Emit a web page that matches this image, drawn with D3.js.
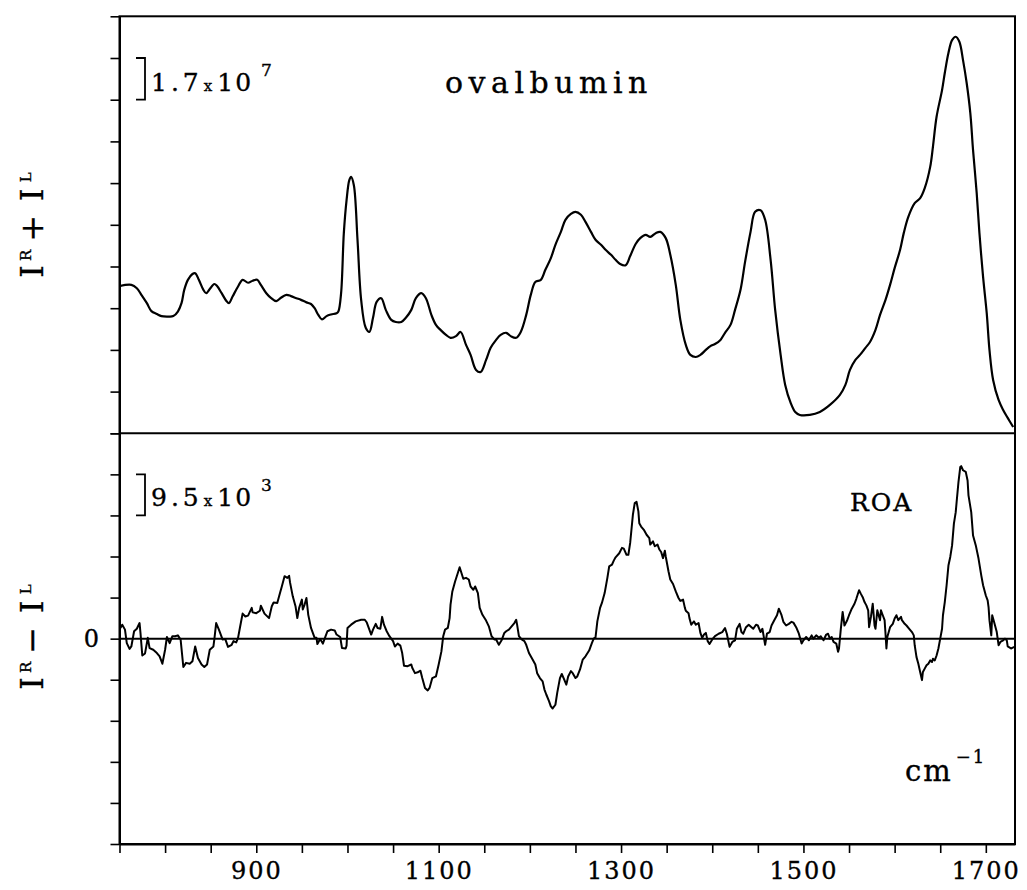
<!DOCTYPE html>
<html>
<head>
<meta charset="utf-8">
<script src="https://d3js.org/d3.v7.min.js"></script>
<style>
  body { margin: 0; background: #fff; }
  svg text { font-family: "DejaVu Serif", serif; fill: #000; stroke: #000; stroke-width: 0.35; }
</style>
</head>
<body>
<svg width="1027" height="890"></svg>
<script>
// wavenumber (cm-1), I^R + I^L in units of the 1.7 x 10^7 scale bar
const ramanSpectrum = [
  [750,3.53],[763,3.56],[769,3.48],[774,3.32],[780,3.12],[785,2.93],[791,2.86],[796,2.81],[803,2.80],[809,2.81],
  [814,2.92],[818,3.12],[821,3.44],[825,3.68],[830,3.82],[833,3.84],[837,3.68],[842,3.44],[845,3.36],[849,3.46],
  [854,3.58],[857,3.53],[862,3.36],[867,3.18],[870,3.12],[874,3.28],[880,3.52],[885,3.68],[891,3.61],[896,3.66],
  [901,3.68],[905,3.56],[911,3.36],[916,3.25],[922,3.17],[927,3.25],[933,3.32],[938,3.29],[944,3.24],[949,3.20],
  [955,3.14],[960,3.10],[964,3.00],[968,2.84],[972,2.73],[977,2.81],[982,2.85],[988,2.88],[990,2.92],[993,3.36],
  [996,4.80],[999,5.59],[1002,6.07],[1004,6.15],[1007,5.95],[1011,4.64],[1015,3.20],[1020,2.53],[1024,2.43],[1028,2.77],
  [1032,3.15],[1037,3.24],[1042,2.96],[1048,2.72],[1053,2.67],[1059,2.67],[1064,2.77],[1070,2.96],[1075,3.24],[1081,3.36],
  [1086,3.24],[1092,2.84],[1097,2.60],[1102,2.48],[1108,2.36],[1113,2.29],[1119,2.33],[1124,2.43],[1130,2.12],[1135,1.88],
  [1141,1.52],[1146,1.47],[1152,1.76],[1157,2.05],[1163,2.24],[1168,2.36],[1174,2.41],[1179,2.33],[1185,2.29],[1190,2.43],
  [1196,2.84],[1201,3.32],[1206,3.63],[1212,3.68],[1217,3.92],[1223,4.20],[1228,4.52],[1234,4.83],[1239,5.12],[1245,5.26],
  [1250,5.31],[1256,5.24],[1261,5.07],[1267,4.83],[1272,4.64],[1278,4.52],[1283,4.40],[1289,4.28],[1294,4.16],[1299,4.06],
  [1305,4.03],[1310,4.25],[1316,4.54],[1321,4.68],[1327,4.76],[1332,4.71],[1338,4.80],[1343,4.83],[1349,4.68],[1354,4.28],
  [1360,3.56],[1365,2.72],[1371,2.12],[1376,1.88],[1382,1.83],[1387,1.88],[1393,2.00],[1398,2.09],[1403,2.14],[1409,2.24],
  [1414,2.41],[1420,2.60],[1425,2.96],[1431,3.44],[1436,4.11],[1442,4.83],[1447,5.31],[1453,5.35],[1458,5.12],[1464,4.16],
  [1469,2.96],[1475,1.88],[1480,1.16],[1486,0.73],[1491,0.51],[1496,0.44],[1507,0.44],[1518,0.51],[1529,0.68],[1540,0.92],
  [1546,1.16],[1551,1.52],[1557,1.76],[1562,1.88],[1568,2.05],[1573,2.19],[1579,2.48],[1584,2.84],[1590,3.20],[1595,3.56],
  [1600,3.96],[1606,4.40],[1610,4.80],[1615,5.19],[1622,5.52],[1628,5.64],[1633,5.88],[1639,6.39],[1642,6.87],[1646,7.59],
  [1652,8.23],[1655,8.64],[1659,9.12],[1663,9.43],[1667,9.51],[1671,9.39],[1675,8.95],[1679,8.40],[1683,7.68],[1686,6.79],
  [1690,5.76],[1693,4.80],[1697,3.75],[1701,2.88],[1704,2.00],[1708,1.28],[1714,0.80],[1719,0.56],[1724,0.37],[1730,0.15]
];

// wavenumber (cm-1), I^R - I^L in units of the 9.5 x 10^3 scale bar
const roaSpectrum = [
  [751,0.26],[753,0.34],[756,0.22],[758,-0.11],[761,-0.25],[763,-0.19],[766,0.18],[769,0.24],[772,0.38],[773,0.14],
  [775,-0.41],[778,-0.36],[780,-0.11],[781,0.02],[783,-0.23],[787,-0.27],[791,-0.35],[794,-0.43],[797,-0.61],[800,-0.27],
  [802,0.04],[805,-0.11],[808,0.06],[811,0.06],[814,0.08],[817,-0.02],[820,-0.69],[823,-0.59],[827,-0.61],[830,-0.55],
  [833,-0.19],[836,-0.47],[840,-0.63],[843,-0.69],[846,-0.63],[849,-0.27],[853,-0.19],[854,-0.02],[856,0.38],[859,0.22],
  [863,-0.02],[866,-0.01],[869,-0.20],[873,-0.15],[875,-0.06],[878,-0.09],[880,0.02],[882,0.26],[885,0.61],[888,0.54],
  [891,0.56],[895,0.75],[896,0.64],[900,0.62],[904,0.68],[905,0.80],[909,0.61],[914,0.50],[917,0.79],[919,0.88],
  [923,0.87],[926,1.11],[928,1.27],[931,1.52],[934,1.48],[936,1.53],[937,1.37],[940,1.03],[943,0.79],[945,0.50],
  [947,0.75],[950,0.95],[951,0.71],[953,0.83],[955,0.99],[957,0.58],[960,0.26],[964,0.02],[966,0.02],[967,-0.13],
  [970,-0.01],[973,-0.12],[976,0.06],[978,0.18],[982,0.22],[986,0.20],[988,0.10],[992,0.04],[994,-0.23],[998,-0.24],
  [999,-0.17],[1000,0.26],[1004,0.34],[1009,0.42],[1015,0.46],[1019,0.46],[1021,0.40],[1024,0.22],[1026,0.10],[1028,0.22],
  [1031,0.36],[1033,0.26],[1036,0.24],[1038,0.53],[1040,0.34],[1043,0.18],[1046,0.06],[1050,-0.06],[1052,-0.19],[1055,-0.12],
  [1058,-0.17],[1060,-0.35],[1062,-0.66],[1066,-0.67],[1070,-0.63],[1071,-0.71],[1074,-0.84],[1077,-0.82],[1080,-0.78],[1082,-0.96],
  [1085,-1.20],[1088,-1.26],[1090,-1.20],[1093,-0.96],[1097,-0.92],[1100,-0.63],[1103,-0.31],[1105,0.06],[1107,0.22],[1110,0.26],
  [1112,0.50],[1113,0.83],[1115,1.15],[1118,1.39],[1121,1.60],[1123,1.74],[1125,1.60],[1127,1.46],[1130,1.48],[1133,1.44],
  [1135,1.27],[1138,1.19],[1140,1.27],[1143,1.11],[1145,0.75],[1148,0.58],[1152,0.44],[1155,0.30],[1158,0.06],[1161,-0.02],
  [1163,-0.02],[1166,-0.15],[1169,-0.04],[1172,0.14],[1174,0.18],[1177,0.22],[1180,0.30],[1183,0.38],[1185,0.46],[1186,0.34],
  [1188,0.06],[1191,-0.02],[1194,-0.06],[1196,-0.15],[1199,-0.35],[1203,-0.51],[1206,-0.63],[1208,-0.84],[1211,-0.96],[1214,-1.04],
  [1216,-1.24],[1218,-1.36],[1221,-1.52],[1223,-1.65],[1225,-1.70],[1228,-1.61],[1230,-1.32],[1233,-0.96],[1235,-0.86],[1237,-0.96],
  [1240,-1.12],[1242,-0.92],[1245,-0.79],[1247,-0.84],[1250,-0.96],[1252,-0.92],[1255,-0.75],[1258,-0.51],[1261,-0.43],[1265,-0.29],
  [1268,-0.11],[1270,0.00],[1272,0.03],[1274,0.42],[1277,0.75],[1279,0.87],[1282,1.11],[1285,1.48],[1287,1.76],[1290,1.80],
  [1292,1.90],[1294,1.98],[1298,2.08],[1301,2.21],[1303,2.19],[1306,2.04],[1308,2.04],[1310,2.33],[1313,3.02],[1315,3.30],
  [1317,3.33],[1319,3.10],[1320,2.81],[1322,2.73],[1325,2.65],[1328,2.53],[1331,2.45],[1332,2.29],[1335,2.37],[1337,2.25],
  [1340,2.29],[1342,2.17],[1344,2.11],[1346,1.96],[1348,2.14],[1349,2.00],[1352,1.64],[1354,1.44],[1357,1.33],[1360,1.15],
  [1363,0.99],[1365,0.92],[1368,0.95],[1370,0.75],[1371,0.68],[1374,0.62],[1375,0.50],[1377,0.34],[1380,0.42],[1382,0.34],
  [1385,0.38],[1387,0.14],[1389,0.02],[1391,0.10],[1393,0.14],[1395,-0.06],[1397,-0.13],[1400,-0.02],[1403,0.06],[1407,0.12],
  [1411,0.16],[1414,0.26],[1416,0.12],[1419,-0.20],[1422,-0.08],[1425,-0.04],[1427,0.24],[1430,0.36],[1432,0.16],[1434,0.12],
  [1437,0.28],[1440,0.34],[1443,0.28],[1445,0.24],[1448,0.34],[1450,0.32],[1453,0.16],[1455,0.24],[1458,-0.15],[1460,0.12],
  [1463,0.16],[1465,0.32],[1468,0.45],[1471,0.57],[1473,0.73],[1476,0.57],[1478,0.41],[1481,0.32],[1484,0.36],[1487,0.41],
  [1489,0.39],[1492,0.28],[1495,0.12],[1498,-0.12],[1500,-0.04],[1503,0.04],[1506,-0.04],[1509,0.08],[1511,0.00],[1514,0.08],
  [1517,0.02],[1519,0.06],[1522,-0.04],[1525,0.10],[1527,0.12],[1529,0.00],[1531,0.04],[1533,-0.08],[1536,-0.12],[1538,-0.32],
  [1539,-0.24],[1541,0.24],[1543,0.65],[1545,0.32],[1548,0.45],[1550,0.57],[1553,0.73],[1556,0.85],[1558,0.97],[1561,1.18],
  [1563,1.09],[1565,1.01],[1567,0.89],[1569,0.81],[1571,0.69],[1572,0.28],[1574,0.53],[1576,0.85],[1578,0.32],[1579,0.24],
  [1581,0.69],[1584,0.45],[1585,0.69],[1587,0.57],[1589,0.45],[1590,0.12],[1591,-0.24],[1592,0.04],[1595,0.28],[1598,0.36],
  [1600,0.49],[1602,0.57],[1604,0.45],[1607,0.53],[1608,0.45],[1611,0.36],[1613,0.32],[1616,0.24],[1619,0.16],[1621,0.08],
  [1622,-0.16],[1624,-0.45],[1626,-0.61],[1628,-0.81],[1630,-1.01],[1631,-0.81],[1633,-0.73],[1635,-0.65],[1637,-0.61],[1639,-0.53],
  [1641,-0.57],[1642,-0.49],[1644,-0.53],[1646,-0.41],[1648,-0.24],[1650,0.00],[1652,0.24],[1653,0.57],[1655,0.89],[1657,1.30],
  [1659,1.78],[1661,1.99],[1663,2.27],[1665,2.80],[1667,3.08],[1668,3.33],[1670,3.81],[1672,4.18],[1673,4.20],[1675,4.10],
  [1678,4.06],[1680,3.85],[1681,3.49],[1684,3.08],[1686,2.51],[1689,2.27],[1692,1.95],[1695,1.54],[1697,1.30],[1700,1.05],
  [1702,0.93],[1703,0.77],[1704,0.45],[1706,0.08],[1707,0.57],[1709,0.41],[1712,0.16],[1714,-0.16],[1716,-0.08],[1719,-0.04],
  [1721,0.00],[1723,-0.04],[1724,-0.19],[1728,-0.24],[1731,-0.20]
];

const xTicks = d3.range(750, 1701, 50);
const xTickLabels = [900, 1100, 1300, 1500, 1700];
const topTicks = d3.range(0, 11);
const roaTicks = d3.range(-5, 6);

const svg = d3.select("svg");
svg.append("rect").attr("width", 1027).attr("height", 890).attr("fill", "#fff");

const left = 119.5, right = 1015;
const x = d3.scaleLinear().domain([750, 1732]).range([left, right]);
const yTop = d3.scaleLinear().domain([0, 10]).range([433.3, 16.3]);
const yRoa = d3.scaleLinear().domain([-5, 5]).range([844, 433.3]);

// clip regions for the two panels
const defs = svg.append("defs");
defs.append("clipPath").attr("id", "clipTop").append("rect")
  .attr("x", left).attr("y", yTop(10)).attr("width", right - left).attr("height", yTop(0) - yTop(10));
defs.append("clipPath").attr("id", "clipRoa").append("rect")
  .attr("x", left).attr("y", yRoa(5)).attr("width", right - left).attr("height", yRoa(-5) - yRoa(5));

// frame
svg.append("rect")
  .attr("x", left).attr("y", yTop(10))
  .attr("width", right - left).attr("height", yRoa(-5) - yTop(10))
  .attr("fill", "none").attr("stroke", "#000").attr("stroke-width", 2);
svg.append("line")
  .attr("x1", left).attr("x2", right).attr("y1", yTop(0)).attr("y2", yTop(0))
  .attr("stroke", "#000").attr("stroke-width", 2);
svg.append("line")
  .attr("x1", left).attr("x2", right).attr("y1", yRoa(0)).attr("y2", yRoa(0))
  .attr("stroke", "#000").attr("stroke-width", 2);

// left ticks
function styleAxis(g) {
  g.select(".domain").attr("stroke-width", 2);
  g.selectAll(".tick line").attr("stroke-width", 1.6);
}
svg.append("g").attr("transform", `translate(${left},0)`)
  .call(d3.axisLeft(yTop).tickValues(topTicks).tickSize(9).tickSizeOuter(0).tickFormat(""))
  .call(styleAxis);
svg.append("g").attr("transform", `translate(${left},0)`)
  .call(d3.axisLeft(yRoa).tickValues(roaTicks).tickSize(9).tickSizeOuter(0).tickFormat(""))
  .call(styleAxis);

// bottom axis
const xAxis = svg.append("g").attr("transform", `translate(0,${yRoa(-5)})`)
  .call(d3.axisBottom(x).tickValues(xTicks).tickSize(9).tickSizeOuter(0).tickPadding(9)
    .tickFormat(d => xTickLabels.includes(d) ? d : ""))
  .call(styleAxis);
xAxis.selectAll("text")
  .attr("font-family", "DejaVu Serif").attr("font-size", 24).attr("letter-spacing", 2);

// spectra
svg.append("path")
  .datum(ramanSpectrum)
  .attr("clip-path", "url(#clipTop)")
  .attr("fill", "none").attr("stroke", "#000").attr("stroke-width", 2.2)
  .attr("d", d3.line().x(d => x(d[0])).y(d => yTop(d[1])).curve(d3.curveCatmullRom));

svg.append("path")
  .datum(roaSpectrum)
  .attr("clip-path", "url(#clipRoa)")
  .attr("fill", "none").attr("stroke", "#000").attr("stroke-width", 2)
  .attr("stroke-linejoin", "round")
  .attr("d", d3.line().x(d => x(d[0])).y(d => yRoa(d[1])));

// scale bars
function scaleBar(y, v0, v1, mant, expo) {
  svg.append("path")
    .attr("d", `M136,${y(v1)}H145V${y(v0)}H136`)
    .attr("fill", "none").attr("stroke", "#000").attr("stroke-width", 1.8);
  const base = y(v0) - 9;
  const t = svg.append("text").attr("x", 151).attr("y", base).attr("font-size", 25);
  t.append("tspan").attr("letter-spacing", 4).text(mant);
  t.append("tspan").attr("font-size", 15).attr("dx", 1).text("x");
  t.append("tspan").attr("dx", 5).attr("letter-spacing", 2).text("10");
  t.append("tspan").attr("font-size", 17).attr("dx", 8).attr("dy", -15).text(expo);
}
scaleBar(yTop, 8, 9, "1.7", "7");
scaleBar(yRoa, 3, 4, "9.5", "3");

svg.append("text").attr("x", 445).attr("y", 93)
  .attr("font-size", 30).attr("letter-spacing", 5.5).text("ovalbumin");
svg.append("text").attr("x", 850).attr("y", 511)
  .attr("font-size", 25).attr("letter-spacing", 2).text("ROA");

const cm = svg.append("text").attr("x", 905).attr("y", 781).attr("font-size", 29).attr("letter-spacing", 2);
cm.append("tspan").text("cm");
cm.append("tspan").attr("font-size", 18).attr("dx", 3).attr("dy", -18).text("−1");

svg.append("text").attr("x", 99).attr("y", yRoa(0) + 8)
  .attr("text-anchor", "end").attr("font-size", 24).text("0");

// rotated axis titles
function axisTitle(cy, op) {
  const t = svg.append("text")
    .attr("transform", `translate(43,${cy}) rotate(-90)`)
    .attr("text-anchor", "middle").attr("font-size", 32);
  t.append("tspan").text("I");
  t.append("tspan").attr("font-size", 15).attr("dx", 4).attr("dy", -12).text("R");
  t.append("tspan").attr("dy", 12).attr("dx", 8).text(op);
  t.append("tspan").attr("dx", 14).text("I");
  t.append("tspan").attr("font-size", 15).attr("dx", 6).attr("dy", -12).text("L");
}
axisTitle(225, "+");
axisTitle(637, "−");
</script>
</body>
</html>
